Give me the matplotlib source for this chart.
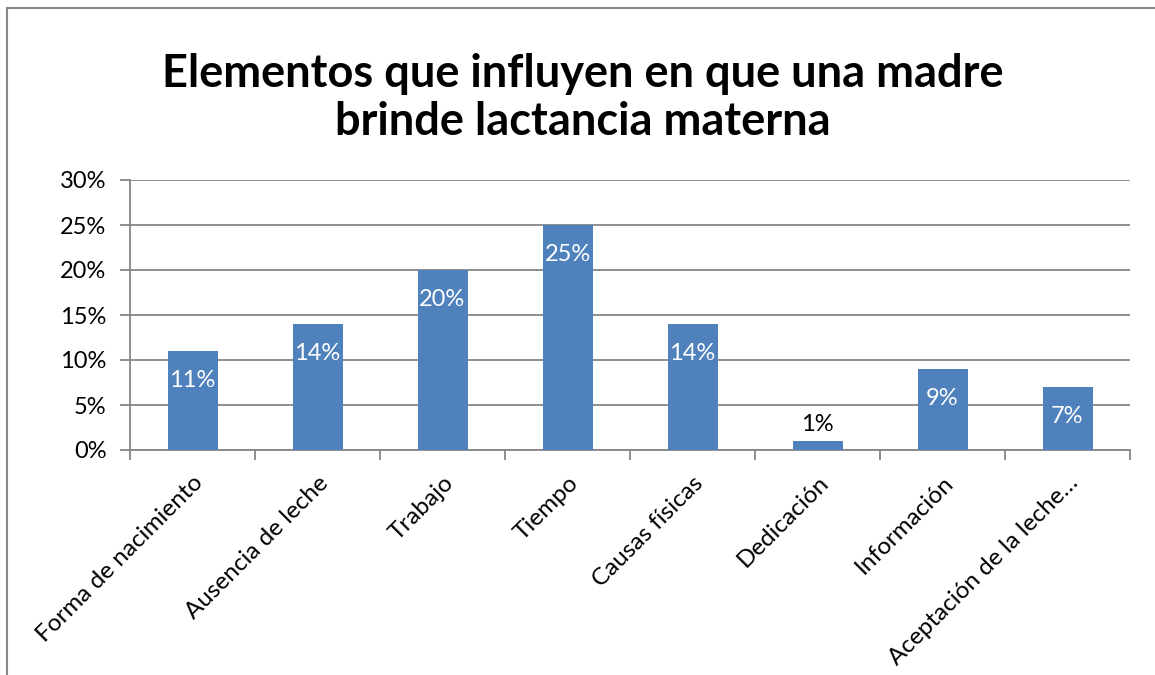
import matplotlib.pyplot as plt
import numpy as np
from matplotlib.lines import Line2D

plt.rcParams['font.family'] = ['Lato', 'DejaVu Sans']

categories = ['Forma de nacimiento', 'Ausencia de leche', 'Trabajo', 'Tiempo',
              'Causas físicas', 'Dedicación', 'Información', 'Aceptación de la leche…']
values = [11, 14, 20, 25, 14, 1, 9, 7]
title = 'Elementos que influyen en que una madre\nbrinde lactancia materna'

bar_color = '#4F81BD'
grid_color = '#868686'
fs = 17

fig = plt.figure(figsize=(11.55, 6.75), dpi=100)
ax = fig.add_axes([130 / 1155, 1 - 450 / 675, 1000 / 1155, 270 / 675])

x = np.arange(len(categories))
bars = ax.bar(x, values, width=0.4, color=bar_color, zorder=3)

ax.set_xlim(-0.5, len(categories) - 0.5)
ax.set_ylim(0, 30)
ax.set_yticks(np.arange(0, 31, 5))
ax.set_yticklabels(['%d%%' % v for v in range(0, 31, 5)], fontsize=fs)
ax.yaxis.grid(True, color=grid_color, linewidth=1.3, zorder=0)

# category boundaries get the ticks, labels sit at the centres
ax.set_xticks(np.arange(-0.5, len(categories), 1))
ax.set_xticklabels([])
ax.set_xticks(x, minor=True)
ax.set_xticklabels(categories, minor=True, rotation=45, ha='right', va='top',
                   rotation_mode='anchor', fontsize=17.5)
ax.tick_params(axis='x', which='minor', length=0, pad=16)
ax.tick_params(axis='x', which='major', length=7, width=1.3, color=grid_color)
ax.tick_params(axis='y', length=7, width=1.3, color=grid_color, pad=10)

for side in ['top', 'right']:
    ax.spines[side].set_visible(False)
for side in ['left', 'bottom']:
    ax.spines[side].set_color(grid_color)
    ax.spines[side].set_linewidth(1.3)

for xi, v in zip(x, values):
    if v >= 5:
        ax.annotate('%d%%' % v, (xi, v), xytext=(0, -21), textcoords='offset points',
                    ha='center', va='center', color='white', fontsize=fs, zorder=4)
    else:
        ax.annotate('%d%%' % v, (xi, v), xytext=(0, 12), textcoords='offset points',
                    ha='center', va='center', color='black', fontsize=fs, zorder=4)

fig.text(583 / 1155, 1 - 98 / 675, title, ha='center', va='center',
         fontsize=32.5, fontweight='bold', linespacing=1.15)

# chart border (only left and top edges fall inside the picture)
fig.add_artist(Line2D([7 / 1155, 7 / 1155], [0, 1 - 8 / 675], color='#888888', lw=1.5))
fig.add_artist(Line2D([7 / 1155, 1], [1 - 8 / 675, 1 - 8 / 675], color='#888888', lw=1.5))

fig.savefig('out.png', dpi=100)
